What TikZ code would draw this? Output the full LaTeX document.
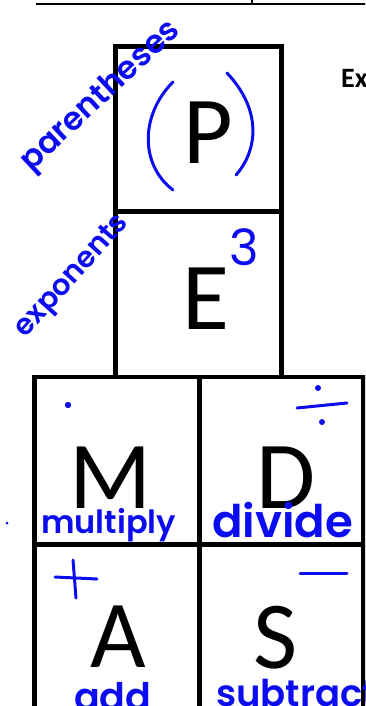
\documentclass[tikz,border=0pt]{standalone}
\usepackage{fontspec}
\setmainfont{Carlito}
\newfontfamily\hand{Poppins}[BoldFont=* SemiBold]
\definecolor{ink}{RGB}{12,12,240}
\begin{document}
\begin{tikzpicture}[x=1pt,y=-1pt,
  box/.style={line width=4.5pt, line join=miter},
  letter/.style={font=\fontsize{96}{96}\selectfont, anchor=base, inner sep=0pt},
  hw/.style={text=ink, inner sep=0pt},
  pen/.style={draw=ink, line width=3pt, line cap=round, line join=round}]
\useasboundingbox (0,0) rectangle (365,706);
\clip (0,0) rectangle (365,706);
% top rule and tick
\draw[line width=2.5pt] (36,4) -- (366,4);
\draw[line width=2pt] (252,-1) -- (252,3);
\node[font=\bfseries\fontsize{28}{28}\selectfont, anchor=base west, inner sep=0pt] (ex) at (341,88) {Ex};
% boxes
\draw[box] (115.5,46.5) rectangle (281.5,211.5);
\draw[box] (115.5,211.5) -- (115.5,377);
\draw[box] (281.5,211.5) -- (281.5,377);
\draw[box] (34.5,720) -- (34.5,377) -- (363.5,377) -- (363.5,720);
\draw[box] (199.5,377) -- (199.5,720);
\draw[box] (34.5,544.5) -- (363.5,544.5);
% letters
\node[letter] (P) at (208,163) {P};
\node[letter] (E) at (205.5,329) {E};
\node[letter] (M) at (111,508) {M};
\node[letter] (D) at (286,508) {D};
\node[letter] (A) at (118.5,667) {A};
\node[letter] (S) at (276,668) {S};
% handwriting
\node[hw, font=\hand\bfseries\fontsize{32}{32}\selectfont, rotate=43] (lpar) at (101,97) {parentheses};
\node[hw, font=\hand\bfseries\fontsize{29}{29}\selectfont, rotate=48] (lexp) at (73,277) {exponents};
\node[hw, font=\hand\bfseries\fontsize{32}{32}\selectfont, anchor=base west] (lmul) at (41,533) {multiply};
\node[hw, font=\hand\bfseries\fontsize{45}{45}\selectfont, anchor=base west] (ldiv) at (212,537) {divide};
\node[hw, font=\hand\bfseries\fontsize{38}{38}\selectfont, anchor=base west] (ladd) at (74,710) {add};
\node[hw, font=\hand\bfseries\fontsize{37}{37}\selectfont, anchor=base west] (lsub) at (216,706) {subtract};
\node[hw, font=\hand\fontsize{50}{50}\selectfont, anchor=base west] (three) at (229,265) {3};
% hand marks
\draw[pen] (173,82) .. controls (140,115) and (140,165) .. (173,190);
\draw[pen] (227,73) .. controls (262,110) and (258,150) .. (236,175);
\fill[ink] (68,405) circle (3.2);
\draw[pen] (297,408) -- (347,403);
\fill[ink] (318,388) circle (3);
\fill[ink] (322,422) circle (3);
\draw[pen] (55,577) -- (97,579);
\draw[pen] (73,560) -- (76,598);
\draw[pen] (300,573) -- (347,573);
\fill[ink] (7,523) circle (1.5);
\end{tikzpicture}
\end{document}
